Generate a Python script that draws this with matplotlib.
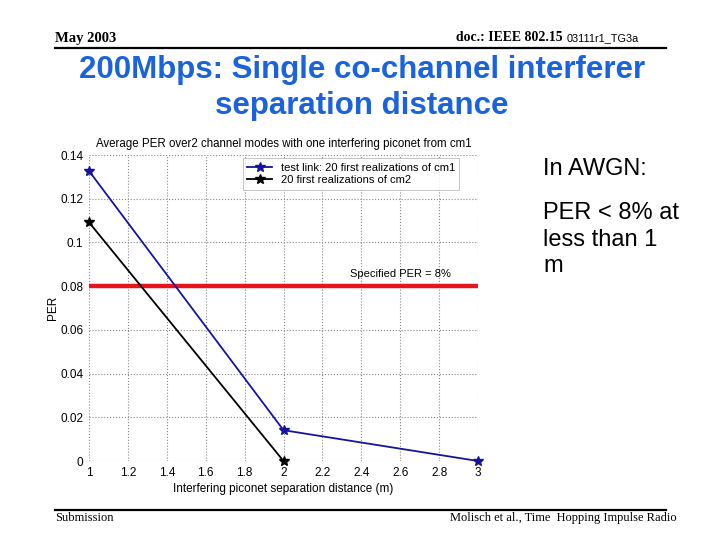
import matplotlib
matplotlib.use("Agg")
import matplotlib.pyplot as plt

distance = [1, 2, 3]
per_cm1 = [0.1327, 0.0141, 0.0]
distance_cm2 = [1, 2]
per_cm2 = [0.1092, 0.0]
spec_per = 0.08
xticks = [1, 1.2, 1.4, 1.6, 1.8, 2, 2.2, 2.4, 2.6, 2.8, 3]
xtick_labels = ["1", "1.2", "1.4", "1.6", "1.8", "2", "2.2", "2.4", "2.6", "2.8", "3"]
yticks = [0, 0.02, 0.04, 0.06, 0.08, 0.1, 0.12, 0.14]
ytick_labels = ["0", "0.02", "0.04", "0.06", "0.08", "0.1", "0.12", "0.14"]

sans = ["Liberation Sans", "DejaVu Sans"]
serif = ["Liberation Serif", "DejaVu Serif"]

W, H = 720.0, 540.0
def fx(px):
    return px / W
def fy(py):
    return 1 - py / H

fig = plt.figure(figsize=(7.2, 5.4), dpi=100)
fig.patch.set_facecolor("white")

# header
fig.text(fx(55), fy(42), "May 2003", family=serif, fontsize=10.5, fontweight="bold", va="baseline", ha="left")
fig.text(fx(456), fy(41), "doc.: IEEE 802.15", family=serif, fontsize=9.9, fontweight="bold", va="baseline", ha="left")
fig.text(fx(567), fy(41), "03111r1_TG3a", family=sans, fontsize=7.8, va="baseline", ha="left")
fig.add_artist(plt.Line2D([fx(55), fx(666)], [fy(47.5), fy(47.5)], color="black", lw=1.6))

# slide title
fig.text(fx(362), fy(78), "200Mbps: Single co-channel interferer", family=sans, fontsize=22.5,
         fontweight="bold", color="#1a63dc", ha="center", va="baseline")
fig.text(fx(362), fy(114), "separation distance", family=sans, fontsize=22.5,
         fontweight="bold", color="#1a63dc", ha="center", va="baseline")

# right text
for txt, y in [("In AWGN:", 175), ("PER < 8% at", 219), ("less than 1", 246), ("m", 272)]:
    fig.text(fx(543), fy(y), txt, family=sans, fontsize=17, ha="left", va="baseline")

# footer
fig.add_artist(plt.Line2D([fx(55), fx(666)], [fy(510), fy(510)], color="black", lw=1.6))
fig.text(fx(55), fy(521), "Submission", family=serif, fontsize=9, ha="left", va="baseline")
fig.text(fx(677), fy(521), "Molisch et al., Time  Hopping Impulse Radio", family=serif, fontsize=9,
         ha="right", va="baseline")

# axes
ax = fig.add_axes([fx(89), fy(461), (478 - 89) / W, (461 - 155) / H])
for s in ax.spines.values():
    s.set_visible(False)
ax.set_xlim(1, 3)
ax.set_ylim(0, 0.14)
ax.set_xticks(xticks)
ax.set_xticklabels(xtick_labels, family=sans, fontsize=8.5)
ax.set_yticks(yticks)
ax.set_yticklabels(ytick_labels, family=sans, fontsize=8.5)
ax.tick_params(length=0, pad=4)
ax.grid(True, linestyle=":", color="#888888", lw=0.8)

ax.plot(distance, per_cm1, color="#1414a0", marker="*", markersize=7.5, lw=1.3,
        label="test link: 20 first realizations of cm1", clip_on=False, zorder=5)
ax.plot(distance_cm2, per_cm2, color="black", marker="*", markersize=7.5, lw=1.3,
        label="20 first realizations of cm2", clip_on=False, zorder=5)
ax.plot([1, 3], [spec_per, spec_per], color="#e8141c", lw=3.2, solid_capstyle="round", zorder=4)
ax.text(2.342, spec_per + 0.0055, "Specified PER = 8%", family=sans, fontsize=8, ha="left", va="center")

ax.set_title("Average PER over2 channel modes with one interfering piconet from cm1",
             family=sans, fontsize=8.3, pad=6)
ax.set_xlabel("Interfering piconet separation distance (m)", family=sans, fontsize=8.5, labelpad=3)
ax.set_ylabel("PER", family=sans, fontsize=8.5, labelpad=1)

leg = ax.legend(loc="upper left", bbox_to_anchor=((243 - 89) / 389, 0.99),
                prop={"family": sans, "size": 8}, frameon=True, fancybox=False,
                borderpad=0.4, handlelength=2.2, labelspacing=0.25, borderaxespad=0)
leg.get_frame().set_edgecolor("#aaaaaa")
leg.get_frame().set_linewidth(0.6)

fig.savefig("out.png", dpi=100, facecolor="white")
